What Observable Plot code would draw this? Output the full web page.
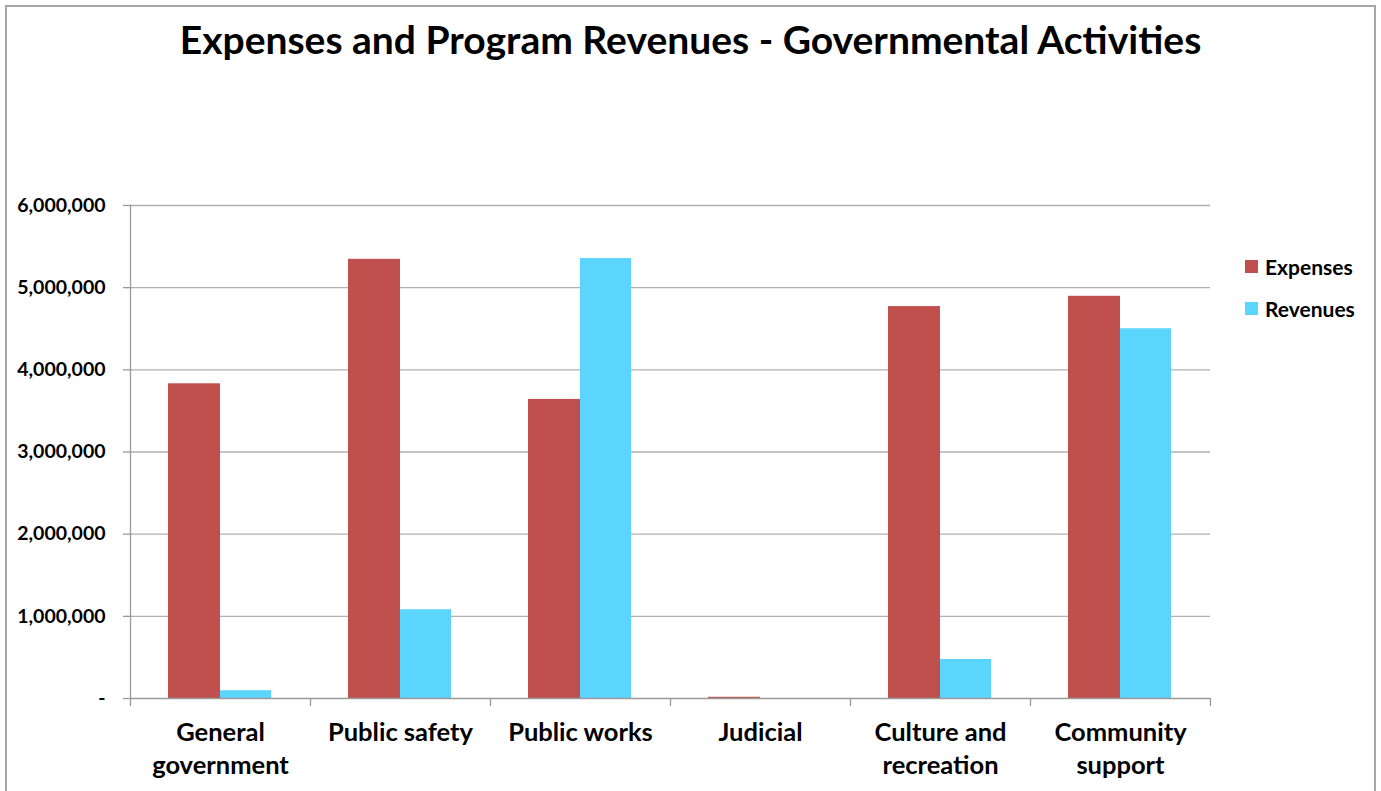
<!DOCTYPE html>
<html>
<head>
<meta charset="utf-8">
<script src="https://cdn.jsdelivr.net/npm/d3@7"></script>
<script src="https://cdn.jsdelivr.net/npm/@observablehq/plot@0.6"></script>
<style>
  html, body { margin: 0; padding: 0; background: #fff; }
  #wrap { position: relative; width: 1381px; height: 791px; overflow: hidden; font-family: Lato, "Open Sans", sans-serif; }
  #border { position: absolute; left: 5px; top: 5px; width: 1371px; height: 900px; border: 2px solid #a6a6a6; box-sizing: border-box; }
  #title { position: absolute; left: 0; top: 0; width: 1381px; height: 80px; text-align: center; font-weight: 700; font-size: 39px; line-height: 78px; color: #000; }
  #chart { position: absolute; left: 0; top: 80px; }
  .leg { position: absolute; left: 1245px; font-weight: 700; font-size: 21px; color: #000; display: flex; align-items: center; }
  .leg span.sw { display: inline-block; width: 13px; height: 13px; margin-right: 7px; }
</style>
</head>
<body>
<div id="wrap">
  <div id="border"></div>
  <div id="title">Expenses and Program Revenues - Governmental Activities</div>
  <div id="chart"></div>
  <div id="legend"></div>
</div>
<script>
const categories = ["General\ngovernment", "Public safety", "Public works", "Judicial", "Culture and\nrecreation", "Community\nsupport"];
const seriesNames = ["Expenses", "Revenues"];
const expenses = [3830000, 5345000, 3640000, 15000, 4770000, 4895000];
const revenues = [95000, 1080000, 5355000, 0, 475000, 4500000];
const yTicks = [0, 1000000, 2000000, 3000000, 4000000, 5000000, 6000000];
const colors = ["#C0504D", "#5BD4FE"];

const rows = [];
categories.forEach((c, i) => {
  rows.push({category: c, series: "Expenses", value: expenses[i]});
  rows.push({category: c, series: "Revenues", value: revenues[i]});
});

const fmt = d => d === 0 ? "-" : d3.format(",")(d);
const gridColor = "#b0b0b0";
const axisColor = "#9a9a9a";

const plot = Plot.plot({
  width: 1381,
  height: 711,
  marginLeft: 130,
  marginRight: 171,
  marginTop: 125,
  marginBottom: 93,
  style: {fontFamily: "Lato, 'Open Sans', sans-serif", background: "transparent", overflow: "visible"},
  x: {domain: categories, padding: 0, label: null},
  y: {domain: [0, 6000000], label: null},
  color: {domain: seriesNames, range: colors},
  marks: [
    Plot.gridY(yTicks.slice(1), {stroke: gridColor, strokeOpacity: 1, strokeWidth: 1.3}),
    Plot.barY(rows.filter(d => d.series === "Expenses"), {x: "category", y: "value", fill: "series", insetLeft: 38, insetRight: 90}),
    Plot.barY(rows.filter(d => d.series === "Revenues"), {x: "category", y: "value", fill: "series", insetLeft: 90, insetRight: 39}),
    Plot.ruleY([0], {stroke: axisColor, strokeWidth: 1.3}),
    Plot.frame({anchor: "left", stroke: axisColor, strokeWidth: 1.3}),
    Plot.ruleX(categories, {x: d => d, y1: 0, y2: 0, insetBottom: -8, dx: -90, stroke: axisColor, strokeWidth: 1.3}),
    Plot.ruleX(categories.slice(-1), {x: d => d, y1: 0, y2: 0, insetBottom: -8, dx: 90, stroke: axisColor, strokeWidth: 1.3}),
    Plot.axisY({ticks: yTicks, tickFormat: fmt, tickSize: 7, tickPadding: 18, stroke: axisColor, strokeWidth: 1.3, fontSize: 19.5, fontWeight: 700, fill: "#000", label: null}),
    Plot.axisX({tickSize: 0, tickPadding: 18, fontSize: 25.5, fontWeight: 700, fill: "#000", lineHeight: 1.33, label: null})
  ]
});
document.getElementById("chart").appendChild(plot);

const legend = document.getElementById("legend");
seriesNames.forEach((s, i) => {
  const div = document.createElement("div");
  div.className = "leg";
  div.style.top = (254 + i * 42) + "px";
  div.innerHTML = `<span class="sw" style="background:${colors[i]}"></span>${s}`;
  legend.appendChild(div);
});
</script>
</body>
</html>
